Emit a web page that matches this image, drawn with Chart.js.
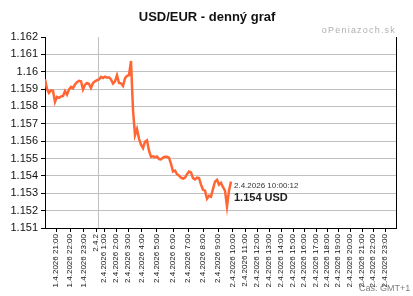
<!DOCTYPE html>
<html>
<head>
<meta charset="utf-8">
<script src="https://cdn.jsdelivr.net/npm/chart.js@4.4.1/dist/chart.umd.min.js"></script>
<style>
  html, body { margin: 0; padding: 0; background: #fff; }
  #wrap { width: 413px; height: 296px; }
</style>
</head>
<body>
<div id="wrap"><canvas id="fx" width="413" height="296"></canvas></div>
<script>
// USD/EUR rate, sampled evenly along the curve (index = sample step)
const rates = [
    1.15957, 1.1590, 1.15878, 1.15893, 1.1589, 1.15826, 1.15855, 1.1585, 1.15858, 1.1586,
    1.15888, 1.15868, 1.15897, 1.15912, 1.15905, 1.15926, 1.1594, 1.15948, 1.15945, 1.15898,
    1.15925, 1.15935, 1.1593, 1.15907, 1.15935, 1.15945, 1.15951, 1.15955, 1.1597, 1.15964,
    1.15972, 1.15966, 1.15968, 1.15955, 1.15932, 1.15945, 1.1598, 1.15935, 1.15933, 1.15918,
    1.15962, 1.15976, 1.1598, 1.16062, 1.1578, 1.15635, 1.1567, 1.15615, 1.1558, 1.1556,
    1.15597, 1.15605, 1.15545, 1.1551, 1.15513, 1.15508, 1.15512, 1.15497, 1.15495, 1.15505,
    1.1551, 1.1551, 1.15505, 1.1547, 1.15425, 1.1543, 1.1541, 1.15402, 1.1539, 1.15385,
    1.1539, 1.1541, 1.15425, 1.1542, 1.15387, 1.1538, 1.1539, 1.15388, 1.1535, 1.1532,
    1.15315, 1.15268, 1.15285, 1.1528, 1.15325, 1.15367, 1.15377, 1.1535, 1.1536, 1.15335,
    1.15315, 1.15224, 1.15315, 1.15367
];

// x axis tick positions (same step units as rates) and their labels
const xTickPos = [5.5, 12.5, 19.2, 25.5, 29.5, 35.5, 41.5, 48.3, 55.8, 64, 71.5, 79, 86.5,
    93.8, 100, 106, 112, 118, 124, 129.5, 135.5, 141, 146.5, 152.5, 158.5, 164, 170];
const xTickLabels = ['1.4.2026 21:00', '1.4.2026 22:00', '1.4.2026 23:00', '2.4.2',
    '2.4.2026 1:00', '2.4.2026 2:00', '2.4.2026 3:00', '2.4.2026 4:00', '2.4.2026 5:00',
    '2.4.2026 6:00', '2.4.2026 7:00', '2.4.2026 8:00', '2.4.2026 9:00', '2.4.2026 10:00',
    '2.4.2026 11:00', '2.4.2026 12:00', '2.4.2026 13:00', '2.4.2026 14:00', '2.4.2026 15:00',
    '2.4.2026 16:00', '2.4.2026 17:00', '2.4.2026 18:00', '2.4.2026 19:00', '2.4.2026 20:00',
    '2.4.2026 21:00', '2.4.2026 22:00', '2.4.2026 23:00'];
const dayLinePos = 26.8;
const xMax = 175.5;

const yMin = 1.151;
const yMax = 1.162;
const yStep = 0.001;

const titleText = 'USD/EUR - denný graf';
const siteText = 'oPeniazoch.sk';
const lastTime = '2.4.2026 10:00:12';
const lastLabel = '1.154 USD';
const tzText = 'Čas: GMT+1';

const FONT = '"Liberation Sans", Arial, sans-serif';

// Extra texts and the right frame line
const decorations = {
    id: 'decorations',
    afterDraw(chart) {
        const ctx = chart.ctx;
        const area = chart.chartArea;
        ctx.save();

        // right border
        ctx.strokeStyle = '#000';
        ctx.lineWidth = 1;
        ctx.beginPath();
        ctx.moveTo(Math.round(area.right) + 0.5, area.top);
        ctx.lineTo(Math.round(area.right) + 0.5, area.bottom);
        ctx.stroke();

        // title
        ctx.fillStyle = '#111';
        ctx.font = 'bold 13px ' + FONT;
        ctx.textAlign = 'center';
        ctx.textBaseline = 'middle';
        ctx.fillText(titleText, 207, 17);

        // site name
        ctx.fillStyle = '#b0b0b0';
        ctx.font = '9px ' + FONT;
        ctx.textAlign = 'right';
        ctx.letterSpacing = '1.2px';
        ctx.fillText(siteText, area.right, 31);
        ctx.letterSpacing = '0px';

        // last value note
        const meta = chart.getDatasetMeta(0);
        const last = meta.data[meta.data.length - 1];
        ctx.textAlign = 'left';
        ctx.fillStyle = '#333';
        ctx.font = '8px ' + FONT;
        ctx.fillText(lastTime, last.x + 3, last.y + 4);
        ctx.fillStyle = '#222';
        ctx.font = 'bold 11px ' + FONT;
        ctx.fillText(lastLabel, last.x + 3, last.y + 16);

        // time zone
        ctx.fillStyle = '#808080';
        ctx.font = '9px ' + FONT;
        ctx.fillText(tzText, 359, 289);

        ctx.restore();
    }
};

new Chart(document.getElementById('fx'), {
    type: 'line',
    data: {
        datasets: [{
            data: rates.map((v, i) => ({ x: i, y: v })),
            borderColor: '#ff6633',
            borderWidth: 2.5,
            pointRadius: 0,
            tension: 0,
            fill: false
        }]
    },
    options: {
        responsive: false,
        animation: false,
        devicePixelRatio: 1,
        layout: { padding: { top: 37, right: 17, left: 0, bottom: 0 } },
        plugins: {
            legend: { display: false },
            tooltip: { enabled: false },
            title: { display: false }
        },
        scales: {
            x: {
                type: 'linear',
                min: 0,
                max: xMax,
                afterFit: s => { s.height = 68; },
                afterBuildTicks: s => {
                    s.ticks = xTickPos.concat([dayLinePos]).map(v => ({ value: v }));
                },
                border: { color: '#000', width: 1 },
                grid: {
                    drawOnChartArea: true,
                    color: c => (c.tick && c.tick.value === dayLinePos) ? '#c0c0c0' : 'rgba(0,0,0,0)',
                    tickColor: c => (c.tick && c.tick.value === dayLinePos) ? 'rgba(0,0,0,0)' : '#000',
                    tickLength: 4
                },
                ticks: {
                    autoSkip: false,
                    minRotation: 90,
                    maxRotation: 90,
                    padding: 2,
                    color: '#111',
                    font: { family: FONT, size: 8 },
                    callback: (v, i) => i < xTickLabels.length ? xTickLabels[i] : ''
                }
            },
            y: {
                min: yMin,
                max: yMax,
                afterFit: s => { s.width = 45; },
                border: { color: '#000', width: 1 },
                grid: {
                    color: c => (c.tick && Math.abs(c.tick.value - yMax) < 1e-7) ? 'rgba(0,0,0,0)' : '#c0c0c0',
                    tickColor: '#000',
                    tickLength: 4
                },
                ticks: {
                    stepSize: yStep,
                    padding: 3,
                    color: '#111',
                    font: { family: FONT, size: 11 },
                    callback: v => String(+v.toFixed(3))
                }
            }
        }
    },
    plugins: [decorations]
});
</script>
</body>
</html>
